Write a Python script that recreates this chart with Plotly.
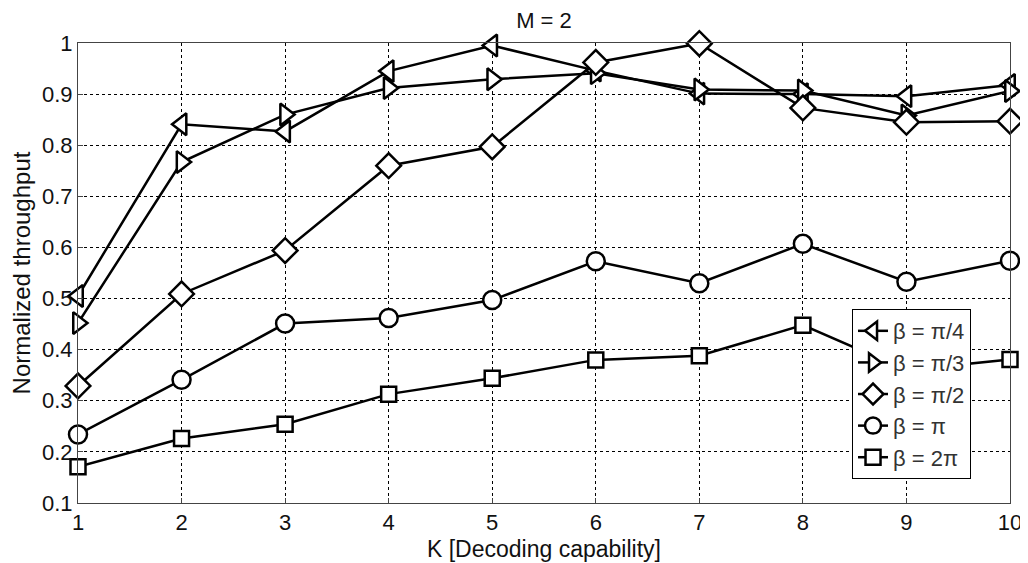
import plotly.graph_objects as go

K = [1, 2, 3, 4, 5, 6, 7, 8, 9, 10]
beta_pi_4 = [0.505, 0.841, 0.827, 0.945, 0.995, 0.946, 0.901, 0.900, 0.896, 0.918]
beta_pi_3 = [0.452, 0.767, 0.860, 0.912, 0.929, 0.941, 0.909, 0.907, 0.858, 0.906]
beta_pi_2 = [0.329, 0.509, 0.594, 0.760, 0.797, 0.962, 0.999, 0.873, 0.845, 0.847]
beta_pi = [0.234, 0.341, 0.451, 0.462, 0.497, 0.573, 0.530, 0.607, 0.533, 0.574]
beta_2pi = [0.171, 0.226, 0.254, 0.313, 0.344, 0.380, 0.388, 0.448, 0.360, 0.381]

series_names = ["β = π/4", "β = π/3", "β = π/2", "β = π", "β = 2π"]
series_vals = [beta_pi_4, beta_pi_3, beta_pi_2, beta_pi, beta_2pi]
symbols = ["triangle-left", "triangle-right", "diamond", "circle", "square"]
sizes = [19, 19, 19, 18, 15]

y_ticks = [0.1, 0.2, 0.3, 0.4, 0.5, 0.6, 0.7, 0.8, 0.9, 1.0]
y_tick_labels = ["0.1", "0.2", "0.3", "0.4", "0.5", "0.6", "0.7", "0.8", "0.9", "1"]

FONT = "Liberation Sans, Arial"

fig = go.Figure()
for name, vals, sym, sz in zip(series_names, series_vals, symbols, sizes):
    fig.add_trace(go.Scatter(
        x=K, y=vals, name=name, mode="lines+markers",
        line=dict(color="black", width=2.5),
        marker=dict(symbol=sym, size=sz, color="white",
                    line=dict(color="black", width=2.5)),
        cliponaxis=False,
    ))

axis_common = dict(
    showgrid=True, gridcolor="black", griddash="dot", gridwidth=1,
    showline=True, linecolor="#444", linewidth=1, mirror=True,
    ticks="inside", ticklen=5, tickcolor="#444",
    zeroline=False, automargin=False,
    tickfont=dict(family=FONT, size=22, color="#111"),
)

fig.update_layout(
    width=1020, height=555,
    paper_bgcolor="white", plot_bgcolor="white",
    margin=dict(l=70, r=18, t=35, b=60),
    title=dict(text="M = 2", x=0.5, xref="paper", xanchor="center",
               yref="container", y=0.978, yanchor="middle",
               font=dict(family=FONT, size=22, color="#111")),
    xaxis=dict(range=[1, 10], tickvals=K, **axis_common),
    yaxis=dict(range=[0.1, 1.0], tickvals=y_ticks, ticktext=y_tick_labels,
               title=dict(text="Normalized throughput",
                          font=dict(family=FONT, size=24, color="#111")),
               **axis_common),
    annotations=[dict(text="K [Decoding capability]", xref="paper", yref="paper",
                      x=0.5, y=-0.1, xanchor="center", yanchor="middle",
                      showarrow=False,
                      font=dict(family=FONT, size=23, color="#111"))],
    showlegend=True,
    legend=dict(x=0.8305, y=0.4217, xanchor="left", yanchor="top",
                bgcolor="white", bordercolor="black", borderwidth=1,
                font=dict(family=FONT, size=22, color="#333"),
                itemwidth=30, tracegroupgap=0),
)

fig.write_html("out.html")
